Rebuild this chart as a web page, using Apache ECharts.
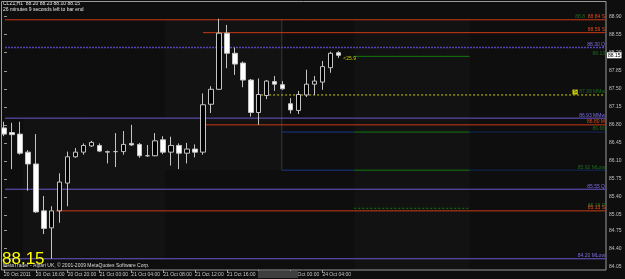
<!DOCTYPE html>
<html><head><meta charset="utf-8">
<script src="https://cdn.jsdelivr.net/npm/echarts@6/dist/echarts.min.js"></script>
<style>html,body{margin:0;padding:0;background:#0e0e0e;}#c{width:625px;height:279px;}</style>
</head><body><div id="c"></div>
<script>
// ---------------- data ----------------
const symbolTitle = 'CLZ1,H1  88.20 88.23 88.10 88.15';
const timerText = '26 minutes 9 seconds left to bar end';
const copyrightText = 'MetaTrader - Alpari UK, \u00a9 2001-2009 MetaQuotes Software Corp.';
const lastPrice = 88.15;
const timerTag = '<25.9';

const barTimes = [
 '20 Oct 12:00','20 Oct 13:00','20 Oct 14:00','20 Oct 15:00','20 Oct 16:00','20 Oct 17:00','20 Oct 18:00','20 Oct 19:00',
 '20 Oct 20:00','20 Oct 21:00','20 Oct 22:00','20 Oct 23:00','21 Oct 00:00','21 Oct 01:00','21 Oct 02:00','21 Oct 03:00',
 '21 Oct 04:00','21 Oct 05:00','21 Oct 06:00','21 Oct 07:00','21 Oct 08:00','21 Oct 09:00','21 Oct 10:00','21 Oct 11:00',
 '21 Oct 12:00','21 Oct 13:00','21 Oct 14:00','21 Oct 15:00','21 Oct 16:00','21 Oct 17:00','21 Oct 18:00','21 Oct 19:00',
 '21 Oct 20:00','21 Oct 21:00','21 Oct 22:00','21 Oct 23:00','24 Oct 00:00','24 Oct 01:00','24 Oct 02:00','24 Oct 03:00',
 '24 Oct 04:00','24 Oct 05:00','24 Oct 06:00'];
const totalSlots = 76;

const opens  = [86.74,86.65,86.62,86.27,86.04,85.13,84.80,85.13,85.67,86.18,86.27,86.39,86.40,86.27,86.28,86.28,86.44,86.42,86.20,86.20,86.51,86.27,86.40,86.25,86.33,86.27,87.20,87.49,88.58,88.19,88.00,87.67,87.04,87.37,87.64,87.58,87.21,87.08,87.38,87.59,87.63,87.91,88.20];
const highs  = [86.86,86.84,86.86,86.31,86.62,85.42,85.22,85.86,86.28,86.35,86.44,86.49,86.44,86.30,86.64,86.68,86.80,86.45,86.41,86.64,86.58,86.57,86.44,86.45,86.42,87.41,87.55,88.86,88.74,88.30,88.03,87.69,87.70,87.67,87.75,87.65,87.32,87.46,87.87,87.75,88.04,88.22,88.23];
const lows   = [86.58,85.94,86.22,85.52,85.09,84.68,84.20,84.90,85.22,86.16,86.22,86.37,86.27,86.05,85.98,86.22,86.39,86.16,86.18,86.19,86.23,86.01,85.94,86.05,86.17,86.22,87.03,87.48,87.90,87.77,87.53,86.96,86.80,87.30,87.46,87.48,87.02,87.01,87.34,87.38,87.48,87.81,88.10];
const closes = [86.62,86.61,86.25,86.04,85.11,84.79,85.13,85.69,86.18,86.27,86.40,86.46,86.29,86.28,86.28,86.42,86.41,86.20,86.20,86.49,86.27,86.40,86.25,86.33,86.27,87.19,87.49,88.58,88.19,87.98,87.67,87.04,87.39,87.65,87.59,87.50,87.09,87.39,87.59,87.65,87.93,88.19,88.15];

const xTickIndex  = [0,4,8,12,16,20,24,28,32,36,40];
const xTickLabels = ['20 Oct 2011','20 Oct 16:00','20 Oct 20:00','21 Oct 00:00','21 Oct 04:00','21 Oct 08:00','21 Oct 12:00','21 Oct 16:00','21 Oct 20:00','24 Oct 00:00','24 Oct 04:00'];
const yTickValues = [88.90,88.55,88.20,87.85,87.50,87.15,86.80,86.45,86.10,85.75,85.40,85.05,84.75,84.40,84.05];

// horizontal levels (value, tag, first bar index)
const levelValues = [88.84, 88.59, 88.30, 88.13, 87.38, 86.93, 86.80, 86.66, 85.92, 85.55, 85.18, 85.13, 84.20];
const levelTags   = ['S',   'S',   'Q',   '',    'MMw', 'MMw', 'M',   '',    'MLow','Q',   'P',   'S',   'MLow'];
const levelStart  = [0.125, 25,    0.125, 44,    32.3,  0.125, 25.25, 34.9,  34.9,  0.125, 44,    6.5,   0.125];
const levelKind   = ['res','res','pivDot','sess','yel','piv','res','box','box','piv','sessDot','res','piv'];
const extraTag88  = '88.8';
const sessionFrom = 44, sessionTo = 58.5, rightEnd = 75.5;
const separatorBar = 34.9;
const zoneBounds = [[20.25, 88.84, 34.9, 85.92], [44, 88.84, 58.5, 83.98], [2.4, 86.93, 20.25, 84.20]];

// ---------------- styles ----------------
const FONT = 'Liberation Sans, Arial, sans-serif';
const RED = '#c83a16', PURPLE = '#6a58cc', PURPLE_D = '#5444b4', GREEN = '#127812', GREEN_D = '#1f6a1f',
      BLUE = '#17398a', NAVY = '#13295a', YELLOW = '#cccc00';

function lvlSeries(v, x0, x1, color, type, width, label) {
  const last = { value: [x1, v] };
  if (label) {
    last.label = Object.assign({ show: true, position: 'top', align: 'right', distance: 0.5,
      fontSize: 5, fontFamily: FONT }, label);
  }
  return { type: 'line', xAxisIndex: 1, yAxisIndex: 0, data: [[x0, v], last],
    symbol: 'circle', symbolSize: 0.01, showSymbol: true, silent: true, z: 1,
    itemStyle: { color: color }, lineStyle: { color: color, type: type, width: width } };
}

const series = [];
levelValues.forEach((v, i) => {
  const txt = v.toFixed(2) + (levelTags[i] ? ' ' + levelTags[i] : '');
  const k = levelKind[i];
  if (k === 'res') {
    const lab = i === 0
      ? { formatter: '{g|' + extraTag88 + '}  {r|' + txt + '}', rich: { g: { color: GREEN_D, fontSize: 5, fontFamily: FONT }, r: { color: '#e04a1e', fontSize: 5, fontFamily: FONT } } }
      : { formatter: txt, color: '#e04a1e' };
    series.push(lvlSeries(v, levelStart[i], rightEnd, RED, 'solid', 1, lab));
  } else if (k === 'piv') {
    series.push(lvlSeries(v, levelStart[i], rightEnd, PURPLE, 'solid', 1, { formatter: txt, color: '#7e6ce0' }));
  } else if (k === 'pivDot') {
    series.push(lvlSeries(v, levelStart[i], rightEnd, PURPLE_D, [2, 1], 1.5, { formatter: txt, color: '#7e6ce0' }));
  } else if (k === 'sess' || k === 'sessDot') {
    series.push(lvlSeries(v, levelStart[i], sessionTo, GREEN, k === 'sess' ? 'solid' : [2, 2], 1, null));
    series.push(lvlSeries(v, sessionTo, rightEnd, 'rgba(0,0,0,0)', 'solid', 1, { formatter: txt, color: GREEN_D }));
  } else if (k === 'yel') {
    series.push(lvlSeries(v, levelStart[i], rightEnd, YELLOW, [2, 2], 1, {
      formatter: '{y|S} {g|' + txt + '}',
      rich: { y: { backgroundColor: YELLOW, color: '#333', fontSize: 5, fontFamily: FONT, padding: [0, 1] }, g: { color: GREEN_D, fontSize: 5, fontFamily: FONT } } }));
  } else if (k === 'box') {
    series.push(lvlSeries(v, levelStart[i], sessionFrom, BLUE, 'solid', 1, null));
    series.push(lvlSeries(v, sessionFrom, sessionTo, GREEN, 'solid', 1, null));
    series.push(lvlSeries(v, sessionTo, rightEnd, NAVY, 'solid', 1, { formatter: txt, color: GREEN_D }));
  }
});

// separator + shaded session zones
series.push({
  type: 'line', xAxisIndex: 1, yAxisIndex: 0, silent: true, z: 0,
  data: [[separatorBar, levelValues[0]], [separatorBar, levelValues[8]]],
  symbol: 'none', lineStyle: { color: '#363636', width: 1 },
  markArea: { silent: true, itemStyle: { color: 'rgba(255,255,255,0.018)' },
    data: zoneBounds.map(b => [{ coord: [b[0], b[1]] }, { coord: [b[2], b[3]] }]) }
});

// candles
series.push({
  type: 'candlestick', xAxisIndex: 0, yAxisIndex: 0, z: 3, barWidth: 5,
  data: opens.map((o, i) => [o, closes[i], lows[i], highs[i]]),
  itemStyle: { color: '#000000', color0: '#ffffff', borderColor: '#c4c4c4', borderColor0: '#c4c4c4', borderColorDoji: '#c4c4c4', borderWidth: 1 },
  markLine: { silent: true, symbol: ['none', 'none'], lineStyle: { color: 'rgba(0,0,0,0)' },
    label: { position: 'end', distance: 2, formatter: () => lastPrice.toFixed(2), backgroundColor: '#ffffff', color: '#000', fontSize: 5, fontFamily: FONT, padding: [1, 1, 0, 1] },
    data: [{ yAxis: lastPrice }] },
  markPoint: { silent: true, symbol: 'circle', symbolSize: 0.01,
    label: { show: true, position: 'right', distance: 5, formatter: timerTag, color: YELLOW, fontSize: 5, fontFamily: FONT },
    data: [{ coord: [opens.length - 1, 88.08] }] }
});

const categories = barTimes.concat(Array.from({ length: totalSlots - barTimes.length }, (_, i) => 'next ' + (i + 1)));

const option = {
  backgroundColor: '#0e0e0e',
  animation: false,
  title: [
    { left: 3, top: 1, text: symbolTitle, subtext: timerText, itemGap: 0, padding: 0,
      textStyle: { color: '#e6e6e6', fontSize: 5, fontWeight: 'normal', fontFamily: FONT, lineHeight: 6 },
      subtextStyle: { color: '#e6e6e6', fontSize: 5, fontFamily: FONT, lineHeight: 6 } },
    { left: 3, top: 263, padding: 0, text: copyrightText,
      textStyle: { color: '#dcdcdc', fontSize: 5, fontWeight: 'normal', fontFamily: FONT } },
    { left: 2, top: 251, padding: 0, text: lastPrice.toFixed(2),
      textStyle: { color: '#ffff00', fontSize: 17, fontWeight: 'normal', fontFamily: FONT } }
  ],
  grid: { left: -3, right: 20, top: 2, bottom: 9 },
  xAxis: [
    { type: 'category', data: categories, boundaryGap: true,
      axisLine: { show: false },
      axisTick: { show: true, alignWithLabel: true, length: 3, interval: (idx) => xTickIndex.includes(idx), lineStyle: { color: '#9a9a9a' } },
      axisLabel: { interval: (idx) => xTickIndex.includes(idx), formatter: (v, idx) => xTickLabels[xTickIndex.indexOf(idx)] || '',
        align: 'left', color: '#c8c8c8', fontSize: 5, fontFamily: FONT, margin: 2, showMinLabel: true, hideOverlap: false },
      splitLine: { show: false } },
    { type: 'value', min: -0.5, max: 75.5, show: false }
  ],
  yAxis: {
    type: 'value', position: 'right', min: 83.982, max: 89.185, scale: true,
    axisLine: { show: false }, splitLine: { show: false },
    axisTick: { show: true, length: 3, customValues: yTickValues, lineStyle: { color: '#9a9a9a' } },
    axisLabel: { customValues: yTickValues, formatter: (v) => v.toFixed(2), color: '#c0c0c0', fontSize: 5, fontFamily: FONT, margin: 4,
      showMinLabel: true, showMaxLabel: true }
  },
  graphic: [
    { type: 'rect', z: 100, silent: true, shape: { x: 1.5, y: 1.5, width: 604.5, height: 268.5 }, style: { fill: 'none', stroke: '#9a9a9a', lineWidth: 1 } },
    { type: 'rect', z: 100, silent: true, shape: { x: 258, y: 271, width: 40, height: 7 }, style: { fill: '#3e3e3e' } }
  ],
  series: series
};
const chart = echarts.init(document.getElementById('c'));
chart.setOption(option);
</script></body></html>
